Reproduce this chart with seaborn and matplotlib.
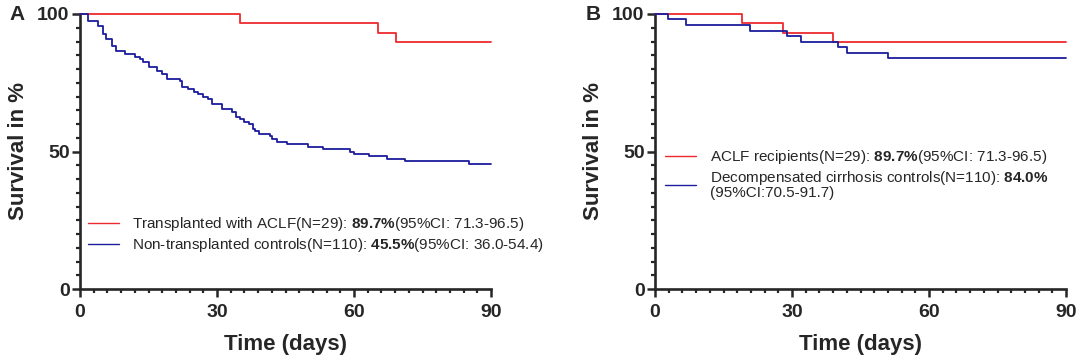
import numpy as np
import pandas as pd
import matplotlib
matplotlib.use("Agg")
import matplotlib.pyplot as plt
from matplotlib.ticker import MultipleLocator
import seaborn as sns

# --- Data ---
a_trans_days = [0, 35.0, 65.2, 69.1, 90]
a_trans_surv = [100, 96.6, 93.1, 89.7, 89.7]

a_ctrl_days = [0, 1.8, 4.0, 5.0, 5.8, 6.9, 7.9, 9.9, 12.0, 13.1, 13.9, 15.1, 16.9,
               17.9, 19.1, 21.9, 22.3, 23.7, 25.0, 25.9, 27.0, 28.1, 29.0, 31.0,
               33.2, 34.1, 35.0, 35.9, 36.9, 37.8, 38.3, 39.3, 41.5, 42.0, 43.2,
               45.3, 50.0, 53.2, 59.1, 60.1, 63.2, 67.2, 71.2, 85.2, 90]
a_ctrl_surv = [100, 97.3, 95.5, 92.7, 90.9, 88.2, 86.4, 85.5, 84.5, 83.6, 82.7,
               80.9, 79.1, 78.2, 76.4, 75.5, 73.6, 72.7, 71.8, 70.9, 70.0, 69.1,
               67.3, 65.5, 64.5, 62.7, 61.8, 60.9, 60.0, 58.2, 57.3, 56.4, 55.5,
               54.5, 53.6, 52.7, 51.8, 50.9, 50.0, 49.1, 48.2, 47.3, 46.4, 45.5, 45.5]

b_trans_days = [0, 19.0, 28.0, 38.9, 90]
b_trans_surv = [100, 96.6, 93.1, 89.7, 89.7]

b_ctrl_days = [0, 2.8, 6.8, 20.8, 28.8, 32.0, 40.0, 42.0, 51.1, 90]
b_ctrl_surv = [100, 98.2, 96.0, 93.9, 92.1, 89.8, 88.0, 86.0, 84.0, 84.0]

a_labels = [r"Transplanted with ACLF(N=29): $\mathbf{89.7\%}$(95%CI: 71.3-96.5)",
            r"Non-transplanted controls(N=110): $\mathbf{45.5\%}$(95%CI: 36.0-54.4)"]
b_labels = [r"ACLF recipients(N=29): $\mathbf{89.7\%}$(95%CI: 71.3-96.5)",
            "Decompensated cirrhosis controls(N=110): $\\mathbf{84.0\\%}$\n(95%CI:70.5-91.7)"]

RED = "#EE2A2E"
BLUE = "#1C1C9E"

sns.set_style("ticks")
plt.rcParams['font.family'] = ['Liberation Sans', 'DejaVu Sans']
plt.rcParams['mathtext.fontset'] = 'custom'
plt.rcParams['mathtext.rm'] = 'Liberation Sans'
plt.rcParams['mathtext.bf'] = 'Liberation Sans:bold'

fig = plt.figure(figsize=(10.8, 3.59), dpi=100)
ax_a = fig.add_axes([80 / 1080, 70 / 359, 411 / 1080, 275 / 359])
ax_b = fig.add_axes([655 / 1080, 70 / 359, 411 / 1080, 275 / 359])


def draw_panel(ax, series, labels, legend_anchor, letter, letter_x):
    for (days, surv), color, lab in zip(series, [RED, BLUE], labels):
        df = pd.DataFrame({"day": days, "surv": surv})
        sns.lineplot(data=df, x="day", y="surv", ax=ax, color=color,
                     drawstyle="steps-post", estimator=None, linewidth=1.3,
                     label=lab, clip_on=False, zorder=3)
    ax.set_xlim(0, 90)
    ax.set_ylim(0, 100)
    ax.xaxis.set_major_locator(MultipleLocator(30))
    ax.xaxis.set_minor_locator(MultipleLocator(3))
    ax.yaxis.set_major_locator(MultipleLocator(50))
    ax.yaxis.set_minor_locator(MultipleLocator(5))
    ax.tick_params(which="major", length=6, width=1.8, labelsize=14, pad=1.5)
    ax.tick_params(axis="x", which="major", pad=5)
    ax.tick_params(which="minor", length=3, width=1.6)
    for lab in ax.get_xticklabels() + ax.get_yticklabels():
        lab.set_fontweight("bold")
    for s in ["left", "bottom"]:
        ax.spines[s].set_linewidth(1.9)
    sns.despine(ax=ax)
    ax.set_xlabel("Time (days)", fontsize=16, fontweight="bold", labelpad=9)
    ax.set_ylabel("Survival in %", fontsize=16, fontweight="bold", labelpad=6)
    leg = ax.legend(loc="upper left", bbox_to_anchor=legend_anchor, frameon=False,
                    fontsize=11, handlelength=2.0, handletextpad=0.9,
                    labelspacing=0.2, borderaxespad=0)
    for h in leg.get_lines():
        h.set_linewidth(1.0)
    for t in leg.get_texts():
        t.set_linespacing(0.95)
    fig.text(letter_x, 1 - 15 / 359, letter, fontsize=15, fontweight="bold",
             ha="center", va="center")


draw_panel(ax_a, [(a_trans_days, a_trans_surv), (a_ctrl_days, a_ctrl_surv)],
           a_labels, (0.005, 0.29), "A", 17 / 1080)
draw_panel(ax_b, [(b_trans_days, b_trans_surv), (b_ctrl_days, b_ctrl_surv)],
           b_labels, (0.01, 0.535), "B", 593 / 1080)

fig.savefig("out.png", dpi=100)
